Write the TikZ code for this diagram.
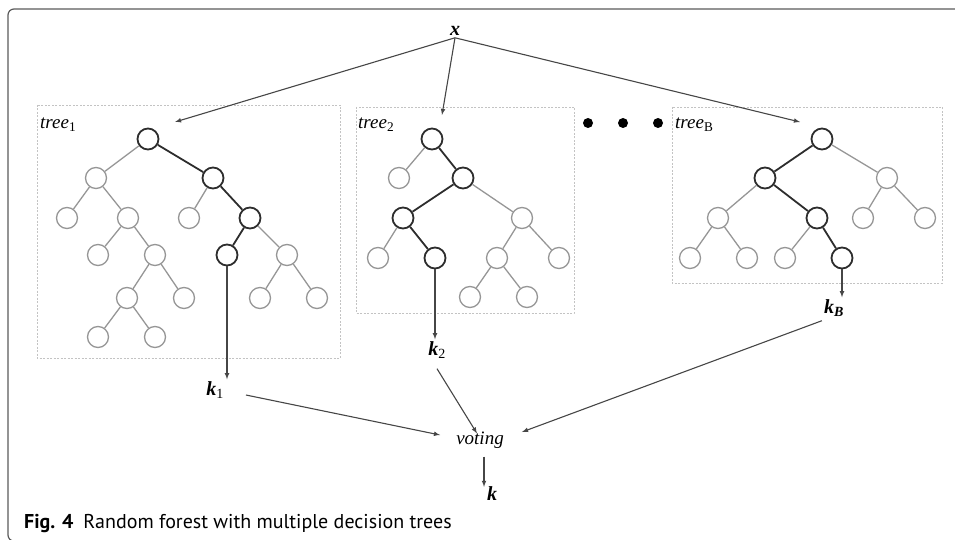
\documentclass[tikz,border=0pt]{standalone}
\usepackage{fontspec}
\setmainfont{Liberation Serif}
\newfontfamily\capfont{PT Sans}
\usepackage{tikz}
\usetikzlibrary{positioning, arrows.meta}
\definecolor{edge_gray}{RGB}{150,150,150}
\definecolor{path_dark}{RGB}{45,45,45}
\definecolor{box_gray}{RGB}{195,195,195}
\definecolor{arrow_gray}{RGB}{70,70,70}
\definecolor{frame_gray}{RGB}{90,90,90}
\tikzstyle{leaf} = [
    circle, minimum size=21pt, inner sep=0pt,
    draw=edge_gray, line width=1.3pt, fill=white,
]
\tikzstyle{hot} = [leaf, draw=path_dark, line width=1.8pt]
\tikzstyle{branch} = [edge_gray, line width=1.3pt]
\tikzstyle{route} = [path_dark, line width=1.8pt]
\tikzstyle{treebox} = [draw=box_gray, line width=0.9pt, dash pattern=on 2pt off 1.5pt]
\tikzstyle{tag} = [font=\fontsize{19}{22}\selectfont\itshape, inner sep=2pt]
\tikzstyle{boldtag} = [tag, font=\fontsize{20}{22}\selectfont\bfseries\itshape]
\tikzstyle{arrow} = [arrow_gray, line width=1.1pt, -latex]

\begin{document}
\begin{tikzpicture}[x=1pt, y=-1pt]
    \useasboundingbox (0,0) rectangle (955,540);

    % page frame and caption
    \draw[frame_gray, line width=1.2pt, rounded corners=6pt] (960,9) -| (8,541) -- (40,541);
    \node[anchor=base west, inner sep=0pt] (caption) at (24,528)
        {\capfont\fontsize{20}{22}\selectfont\textbf{Fig. 4}\enspace Random forest with multiple decision trees};

    % dashed boxes round the trees
    \draw[treebox] (37,105) rectangle (340,358);
    \draw[treebox] (356,107) rectangle (574,313);
    \draw[treebox] (672,107) rectangle (942,283);
    \node[tag, anchor=west] (tree1_text) at (38,125) {tree\textsubscript{\upshape 1}};
    \node[tag, anchor=west] (tree2_text) at (356,125) {tree\textsubscript{\upshape 2}};
    \node[tag, anchor=west] (treeB_text) at (673,125) {tree\textsubscript{\upshape B}};

    % dots between tree 2 and tree B
    \fill[black] (588,123) circle (5pt);
    \fill[black] (623,123) circle (5pt);
    \fill[black] (658,123) circle (5pt);

    % tree 1 nodes
    \node[hot] (t1r) at (148,139) {};
    \node[leaf] (t1a) at (96,178) {};
    \node[hot] (t1b) at (213,178) {};
    \node[leaf] (t1c) at (67,218) {};
    \node[leaf] (t1d) at (128,218) {};
    \node[leaf] (t1e) at (189,218) {};
    \node[hot] (t1f) at (250,218) {};
    \node[leaf] (t1g) at (98,255) {};
    \node[leaf] (t1h) at (155,255) {};
    \node[hot] (t1i) at (227,255) {};
    \node[leaf] (t1j) at (287,255) {};
    \node[leaf] (t1k) at (127,298) {};
    \node[leaf] (t1l) at (184,298) {};
    \node[leaf] (t1m) at (260,298) {};
    \node[leaf] (t1n) at (317,298) {};
    \node[leaf] (t1o) at (98,337) {};
    \node[leaf] (t1p) at (155,337) {};

    % tree 2 nodes
    \node[hot] (t2r) at (432,139) {};
    \node[leaf] (t2a) at (399,178) {};
    \node[hot] (t2b) at (463,178) {};
    \node[hot] (t2c) at (403,218) {};
    \node[leaf] (t2d) at (522,218) {};
    \node[leaf] (t2e) at (378,258) {};
    \node[hot] (t2f) at (435,258) {};
    \node[leaf] (t2g) at (497,258) {};
    \node[leaf] (t2h) at (559,258) {};
    \node[leaf] (t2i) at (470,297) {};
    \node[leaf] (t2j) at (527,297) {};

    % tree B nodes
    \node[hot] (tBr) at (822,139) {};
    \node[hot] (tBa) at (765,178) {};
    \node[leaf] (tBb) at (887,178) {};
    \node[leaf] (tBc) at (718,218) {};
    \node[hot] (tBd) at (817,218) {};
    \node[leaf] (tBe) at (863,218) {};
    \node[leaf] (tBf) at (925,218) {};
    \node[leaf] (tBg) at (690,258) {};
    \node[leaf] (tBh) at (747,258) {};
    \node[leaf] (tBi) at (785,258) {};
    \node[hot] (tBj) at (842,258) {};

    % edges of tree 1
    \draw[branch] (t1r) -- (t1a);
    \draw[route] (t1r) -- (t1b);
    \draw[branch] (t1a) -- (t1c);
    \draw[branch] (t1a) -- (t1d);
    \draw[branch] (t1b) -- (t1e);
    \draw[route] (t1b) -- (t1f);
    \draw[branch] (t1d) -- (t1g);
    \draw[branch] (t1d) -- (t1h);
    \draw[route] (t1f) -- (t1i);
    \draw[branch] (t1f) -- (t1j);
    \draw[branch] (t1h) -- (t1k);
    \draw[branch] (t1h) -- (t1l);
    \draw[branch] (t1j) -- (t1m);
    \draw[branch] (t1j) -- (t1n);
    \draw[branch] (t1k) -- (t1o);
    \draw[branch] (t1k) -- (t1p);

    % edges of tree 2
    \draw[branch] (t2r) -- (t2a);
    \draw[route] (t2r) -- (t2b);
    \draw[route] (t2b) -- (t2c);
    \draw[branch] (t2b) -- (t2d);
    \draw[branch] (t2c) -- (t2e);
    \draw[route] (t2c) -- (t2f);
    \draw[branch] (t2d) -- (t2g);
    \draw[branch] (t2d) -- (t2h);
    \draw[branch] (t2g) -- (t2i);
    \draw[branch] (t2g) -- (t2j);

    % edges of tree B
    \draw[route] (tBr) -- (tBa);
    \draw[branch] (tBr) -- (tBb);
    \draw[branch] (tBa) -- (tBc);
    \draw[route] (tBa) -- (tBd);
    \draw[branch] (tBb) -- (tBe);
    \draw[branch] (tBb) -- (tBf);
    \draw[branch] (tBc) -- (tBg);
    \draw[branch] (tBc) -- (tBh);
    \draw[branch] (tBd) -- (tBi);
    \draw[route] (tBd) -- (tBj);

    % input and outputs
    \node[boldtag] (input) at (455,31) {x};
    \node[boldtag] (k1) at (215,390) {k\textsubscript{\upshape\mdseries 1}};
    \node[boldtag] (k2) at (437,350) {k\textsubscript{\upshape\mdseries 2}};
    \node[boldtag] (kB) at (834,308) {k\textsubscript{B}};
    \node[tag] (voting) at (480,440) {voting};
    \node[boldtag] (result) at (492,494) {k};

    % arrows from x into the trees
    \coordinate (tree1_in) at (175,122);
    \coordinate (tree2_in) at (442,115);
    \coordinate (treeB_in) at (800,122);
    \draw[arrow] (input.south) to (tree1_in);
    \draw[arrow] (input.south) to (tree2_in);
    \draw[arrow] (input.south) to (treeB_in);

    % arrows from the chosen leaves
    \draw[arrow] (t1i) to (t1i |- k1.north);
    \draw[arrow] (t2f) to (t2f |- k2.north);
    \draw[arrow] (tBj) to (tBj |- kB.north);

    % arrows into voting
    \draw[arrow] ([xshift=20pt, yshift=-5pt]k1.east) to ([xshift=-14pt, yshift=5pt]voting.west);
    \draw[arrow] ([yshift=-8pt]k2.south) to ([xshift=-3pt, yshift=-4pt]voting.north);
    \draw[arrow] ([yshift=-2pt]kB.south west) to ([xshift=16pt, yshift=8pt]voting.east);
    \draw[arrow] ([xshift=4pt, yshift=-6pt]voting.south) to ([xshift=-8pt, yshift=-2pt]result.north);
\end{tikzpicture}
\end{document}
